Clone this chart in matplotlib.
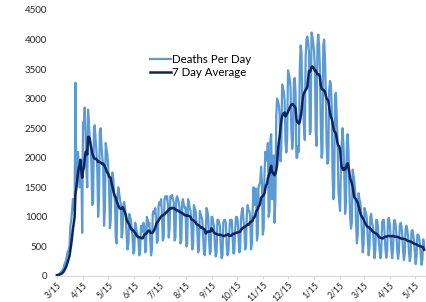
import pandas as pd
import matplotlib
matplotlib.use("Agg")
import matplotlib.pyplot as plt

# ====== Dados ================================================================

start_date = "2020-03-15"

# mortes diarias, uma linha por semana (domingo a sabado)
deaths_per_day = [
    12, 18, 25, 40, 55, 70, 95,
    110, 140, 200, 230, 280, 360, 420,
    430, 520, 850, 950, 1100, 1300, 1150,
    1100, 3270, 1500, 1800, 2100, 1900, 1500,
    1700, 1900, 730, 2600, 2500, 2850, 2400,
    1800, 1500, 2814, 2600, 2300, 2200, 1900,
    1200, 1250, 2500, 2550, 2300, 2100, 1800,
    1000, 1300, 2450, 2500, 2200, 2000, 1850,
    850, 1100, 2250, 2150, 2050, 1850, 1500,
    810, 950, 1650, 1750, 1650, 1400, 1250,
    650, 550, 1350, 1500, 1400, 1300, 1200,
    650, 750, 1200, 1250, 1150, 1000, 650,
    450, 550, 1050, 1000, 950, 800, 650,
    380, 420, 900, 850, 750, 700, 600,
    350, 420, 850, 800, 750, 900, 830,
    400, 450, 1000, 950, 850, 900, 600,
    350, 450, 1050, 1100, 1050, 1150, 940,
    560, 600, 1200, 1250, 1200, 1300, 1030,
    600, 650, 1300, 1350, 1300, 1350, 1220,
    650, 800, 1350, 1330, 1373, 1300, 1247,
    600, 650, 1300, 1350, 1300, 1250, 1145,
    550, 600, 1250, 1300, 1200, 1150, 1160,
    500, 550, 1300, 1250, 1150, 1100, 870,
    450, 500, 1200, 1150, 1100, 900, 790,
    400, 450, 1100, 1050, 1000, 950, 650,
    380, 350, 650, 1150, 1100, 1000, 620,
    370, 420, 1000, 1000, 900, 850, 500,
    330, 400, 950, 950, 900, 850, 485,
    300, 350, 900, 950, 950, 900, 515,
    350, 400, 700, 950, 950, 950, 670,
    380, 400, 750, 1000, 1000, 950, 700,
    400, 450, 950, 1100, 1150, 950, 810,
    450, 500, 1050, 1200, 1100, 1100, 1012,
    450, 550, 1150, 1500, 1200, 1300, 1480,
    600, 700, 1500, 1550, 1600, 1850, 1580,
    700, 800, 1700, 2100, 2050, 1950, 2250,
    1000, 1100, 2300, 2400, 1300, 1900, 2040,
    900, 1300, 2700, 3000, 2950, 2900, 2744,
    1940, 2160, 3240, 3190, 3110, 2970, 2290,
    2090, 2320, 3480, 3420, 3340, 3190, 2460,
    2150, 2300, 3300, 3350, 3100, 2000, 2000,
    2200, 2100, 3500, 3900, 3800, 3000, 2850,
    2500, 2300, 3700, 4000, 4050, 3950, 3790,
    2400, 2450, 4119, 4050, 3950, 3800, 3521,
    2450, 2200, 3900, 4085, 3900, 3500, 2575,
    2000, 2100, 3900, 4000, 3700, 3100, 2200,
    1900, 1950, 3150, 3300, 3250, 2900, 1750,
    1300, 1500, 3050, 3100, 2700, 2300, 1450,
    1250, 1100, 1800, 2250, 2500, 2200, 1710,
    1050, 1250, 2250, 2400, 2100, 1500, 1000,
    800, 900, 1800, 1700, 1600, 1400, 900,
    550, 700, 1400, 1300, 1250, 1100, 700,
    400, 550, 1150, 1100, 1050, 950, 610,
    350, 500, 1000, 1050, 900, 850, 530,
    300, 450, 950, 950, 850, 600, 450,
    300, 400, 900, 950, 950, 700, 455,
    310, 420, 950, 983, 900, 700, 462,
    300, 450, 900, 950, 880, 700, 440,
    290, 400, 850, 900, 850, 700, 420,
    270, 380, 800, 850, 780, 650, 400,
    250, 350, 750, 780, 700, 600, 385,
    200, 330, 700, 700, 650, 560, 360,
    190, 290, 620, 450,
]

tick_labels = ["3/15", "4/15", "5/15", "6/15", "7/15", "8/15", "9/15", "10/15",
               "11/15", "12/15", "1/15", "2/15", "3/15", "4/15", "5/15"]
y_ticks = [0, 500, 1000, 1500, 2000, 2500, 3000, 3500, 4000, 4500]

dates = pd.date_range(start_date, periods=len(deaths_per_day), freq="D")
s = pd.Series(deaths_per_day, index=dates)
avg7 = s.rolling(7, min_periods=1).mean()

tick_dates = [pd.Timestamp(start_date) + pd.DateOffset(months=i)
              for i in range(len(tick_labels))]

# ====== Grafico ==============================================================

plt.rcParams["font.family"] = ["Lato", "DejaVu Sans"]

fig = plt.figure(figsize=(4.27, 3.02), dpi=100)
ax = fig.add_axes([0.1295, 0.0861, 0.8696, 0.8808])

ax.plot(dates, s.values, color="#5b9bd5", lw=1.6, label="Deaths Per Day")
ax.plot(dates, avg7.values, color="#0c2461", lw=1.8, label="7 Day Average")

ax.set_xlim(pd.Timestamp("2020-03-13"), pd.Timestamp("2021-05-29"))
ax.set_ylim(0, 4500)
ax.set_yticks(y_ticks)
ax.set_yticklabels([str(v) for v in y_ticks])
ax.set_xticks(tick_dates)
ax.set_xticklabels(tick_labels, rotation=45, ha="right", rotation_mode="anchor")

for side in ["top", "right", "left"]:
    ax.spines[side].set_visible(False)
ax.spines["bottom"].set_color("#d9d9d9")
ax.tick_params(axis="y", length=0, pad=6, labelsize=7, labelcolor="#262626")
ax.tick_params(axis="x", length=2, color="#d9d9d9", pad=1, labelsize=6.2,
               labelcolor="#262626")

ax.legend(loc="upper left", bbox_to_anchor=(150 / 427, 1 - 54 / 302),
          bbox_transform=fig.transFigure, frameon=False, fontsize=8.3,
          handlelength=1.8, handletextpad=0.1, labelspacing=0.2,
          borderpad=0, borderaxespad=0)

fig.savefig("out.png", dpi=100)
